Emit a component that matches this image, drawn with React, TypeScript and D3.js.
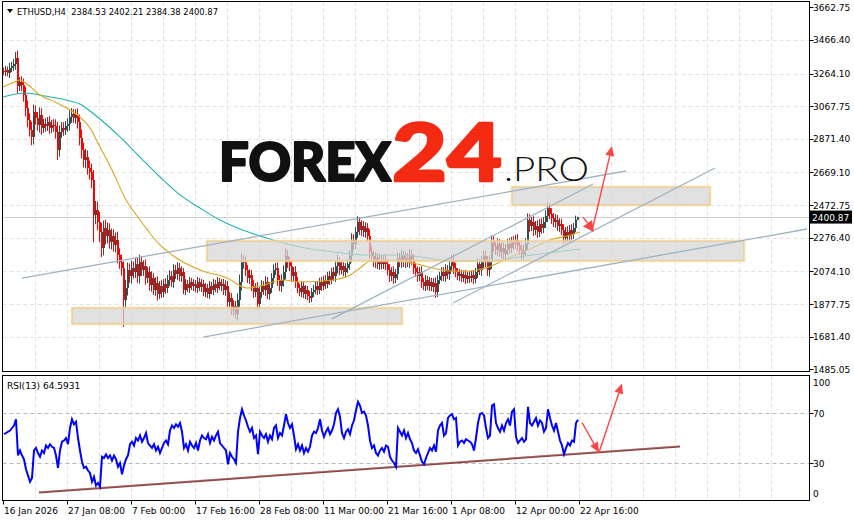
import React from "react";
import * as d3 from "d3";

// ---------- DATA ----------
const symbolHeader = "ETHUSD,H4  2384.53 2402.21 2384.38 2400.87";
const rsiHeader = "RSI(13) 64.5931";
const lastPrice = 2400.87;
const firstOpen = 3280;

// closes (8-hour steps, two H4 bars per candle)
const closes: number[] = [
  3274, 3286, 3268, 3298, 3310, 3322, 3358, 3189, 3213, 3195,
  3135, 3057, 2985, 2925, 2883, 3033, 2997, 2955, 3015, 2937,
  2961, 2949, 2973, 2937, 2955, 2949, 2913, 2804, 2913, 2937,
  2925, 2949, 2961, 3003, 3021, 2997, 3015, 2973, 2877, 2804,
  2744, 2762, 2696, 2672, 2624, 2413, 2443, 2371, 2311, 2215,
  2335, 2287, 2323, 2251, 2287, 2233, 2263, 2173, 2130, 2094,
  1902, 1974, 2082, 2046, 2094, 2070, 2118, 2046, 2130, 2082,
  2106, 2034, 2070, 1992, 2034, 1962, 2004, 1938, 1986, 1950,
  1998, 1974, 2022, 2046, 2010, 2082, 2058, 2094, 2046, 2070,
  1962, 1998, 1974, 2010, 1986, 1998, 1974, 2010, 1980, 1998,
  1950, 1974, 1938, 1986, 1962, 1998, 1974, 2010, 1986, 1998,
  1962, 1986, 1890, 1914, 1842, 1866, 1818, 1902, 2010, 2130,
  2130, 2082, 2034, 2052, 1986, 1950, 1974, 1878, 1950, 1986,
  1962, 2010, 1938, 1974, 2034, 2082, 2094, 2022, 1986, 2022,
  2070, 2167, 2130, 2106, 2046, 2070, 2010, 1974, 1950, 1986,
  1938, 1962, 1926, 1914, 1950, 1962, 1986, 1962, 2010, 1986,
  2022, 1998, 2046, 2022, 2070, 2046, 2106, 2130, 2082, 2106,
  2070, 2094, 2118, 2167, 2263, 2239, 2311, 2371, 2323, 2347,
  2311, 2335, 2287, 2191, 2167, 2130, 2155, 2118, 2143, 2118,
  2143, 2118, 2082, 2046, 2070, 2034, 2058, 2155, 2130, 2167,
  2130, 2155, 2130, 2173, 2143, 2094, 2070, 2046, 2070, 2010,
  1986, 2022, 1986, 2010, 1980, 2004, 1950, 2022, 2046, 2070,
  2046, 2082, 2058, 2106, 2143, 2094, 2070, 2046, 2058, 2034,
  2052, 2028, 2046, 2034, 2052, 2028, 2070, 2118, 2082, 2130,
  2167, 2130, 2082, 2130, 2251, 2227, 2203, 2239, 2191, 2215,
  2179, 2203, 2239, 2215, 2251, 2239, 2263, 2227, 2203, 2179,
  2203, 2239, 2383, 2347, 2371, 2323, 2347, 2311, 2359, 2335,
  2371, 2407, 2455, 2419, 2395, 2371, 2383, 2347, 2359, 2323,
  2275, 2311, 2287, 2323, 2299, 2335, 2384.53, 2400.87,
];

// wick length beyond the body (price units), per candle
const wickLen: number[] = [
  20, 25, 20, 30, 25, 30, 35, 45, 30, 35,
  40, 50, 45, 40, 50, 45, 40, 35, 45, 40,
  30, 35, 30, 35, 30, 35, 40, 60, 40, 35,
  35, 30, 35, 40, 35, 30, 35, 40, 45, 50,
  45, 50, 40, 45, 50, 60, 55, 50, 60, 55,
  45, 50, 45, 40, 45, 40, 45, 50, 40, 45,
  40, 50, 45, 40, 45, 40, 35, 40, 45, 35,
  35, 40, 30, 35, 40, 30, 35, 40, 30, 35,
  30, 35, 30, 35, 30, 35, 30, 35, 30, 35,
  25, 30, 25, 30, 25, 30, 25, 30, 25, 30,
  25, 30, 25, 30, 25, 30, 25, 30, 25, 30,
  30, 35, 30, 35, 30, 35, 30, 40, 45, 50,
  40, 35, 30, 35, 30, 35, 30, 35, 30, 35,
  30, 35, 30, 35, 30, 35, 30, 35, 30, 35,
  40, 45, 35, 30, 35, 30, 35, 30, 25, 30,
  25, 30, 25, 30, 25, 30, 25, 30, 25, 30,
  25, 30, 25, 30, 25, 30, 35, 45, 30, 25,
  25, 30, 30, 35, 40, 35, 30, 35, 30, 35,
  30, 35, 30, 40, 35, 30, 35, 30, 35, 30,
  30, 35, 30, 35, 30, 35, 30, 35, 30, 35,
  30, 35, 30, 35, 30, 35, 30, 35, 30, 35,
  25, 30, 25, 30, 25, 30, 35, 30, 25, 30,
  30, 35, 30, 35, 30, 35, 30, 25, 30, 25,
  25, 30, 25, 30, 25, 30, 25, 35, 30, 35,
  35, 30, 35, 40, 40, 35, 30, 35, 30, 35,
  30, 35, 30, 35, 30, 35, 30, 35, 30, 35,
  30, 35, 40, 35, 30, 35, 30, 35, 30, 35,
  30, 35, 35, 30, 35, 30, 35, 30, 35, 30,
  35, 30, 35, 30, 35, 30, 25, 2,
];

// notable wick extremes: [candle index, price]
const wicks: [number, number][] = [
  [60, 1740],
  [116, 1795],
  [45, 2250],
  [272, 2466],
  [177, 2383],
];

const rsiValues: number[] = [
  53, 54, 55, 56, 58, 60, 65, 36, 40, 36,
  33, 25, 20, 15, 18, 40, 42, 38, 35, 40,
  38, 44, 42, 45, 43, 42, 36, 26, 40, 47,
  48, 50, 45, 58, 65, 61, 63, 50, 40, 31,
  26, 27, 24, 22, 15, 19, 12, 14, 11, 35,
  34, 37, 34, 36, 32, 36, 33, 27, 30, 21,
  28, 33, 36, 45, 47, 44, 50, 48, 52, 47,
  50, 54, 46, 44, 42, 45, 40, 43, 38, 42,
  46, 48, 45, 56, 60, 58, 61, 59, 62, 55,
  42, 45, 40, 47, 44, 42, 46, 40, 48, 52,
  50, 49, 53, 46, 51, 48, 52, 55, 46, 44,
  42, 40, 29, 38, 35, 33, 30, 55, 66, 73,
  68, 64, 59, 55, 58, 50, 52, 37, 55, 52,
  50, 53, 47, 52, 49, 58, 60, 50, 54, 52,
  60, 69, 62, 58, 61, 52, 41, 45, 40, 44,
  38, 42, 39, 43, 52, 55, 54, 58, 65, 56,
  51, 55, 58, 53, 56, 61, 70, 73, 67, 54,
  50, 55, 57, 53, 60, 64, 72, 79, 76, 70,
  71, 68, 60, 48, 42, 44, 38, 36, 40, 42,
  39, 44, 43, 35, 32, 30, 27, 58, 55, 52,
  56, 50, 54, 49, 46, 40, 38, 41, 36, 31,
  29, 34, 38, 42, 40, 44, 39, 56, 60, 62,
  52, 54, 66, 68, 69, 65, 66, 44, 47, 48,
  46, 49, 48, 47, 45, 40, 50, 62, 69, 70,
  68, 58, 50, 52, 76, 77, 62, 58, 55, 60,
  56, 62, 65, 60, 71, 73, 51, 46, 48, 50,
  47, 49, 75, 62, 60, 63, 66, 60, 64, 62,
  55, 58, 73, 66, 60, 56, 62, 55, 48, 44,
  37, 42, 46, 44, 48, 47, 62, 64.59,
];

// moving averages: [candle index, price]
const fastMA: [number, number][] = [
  [0, 3183], [4.5, 3207], [8.5, 3225], [12, 3201], [18.5, 3135], [26, 3093],
  [33.5, 3045], [38.5, 3003], [43.5, 2937], [48.5, 2822], [54.5, 2684],
  [61, 2516], [68.5, 2383], [78.5, 2233], [86, 2161], [98.5, 2082],
  [112, 2034], [122, 1974], [128.5, 1986], [140, 2022], [148.5, 2010],
  [165, 2022], [173.5, 2052], [178.5, 2094], [183.5, 2137], [190, 2143],
  [198.5, 2137], [207, 2118], [215, 2094], [223.5, 2076], [233.5, 2076],
  [241, 2094], [248.5, 2130], [256, 2173], [263.5, 2209], [273.5, 2263],
  [282, 2287], [288.5, 2311],
];
const slowMA: [number, number][] = [
  [0, 3123], [11, 3147], [21, 3129], [33.5, 3099], [38.5, 3081], [43.5, 3039],
  [48.5, 2991], [58.5, 2883], [68.5, 2762], [78.5, 2642], [88.5, 2534],
  [98.5, 2455], [108.5, 2383], [118.5, 2329], [128.5, 2287], [138.5, 2251],
  [148.5, 2221], [165, 2191], [182, 2173], [198.5, 2173], [215, 2149],
  [223.5, 2137], [243.5, 2137], [261, 2167], [276, 2191], [288.5, 2209],
];

const priceTicks = [3662.75, 3466.4, 3264.1, 3067.75, 2871.4, 2669.1, 2472.75, 2276.4, 2074.1, 1877.75, 1681.4, 1485.05];
const priceTickLabels = ["3662.75", "3466.40", "3264.10", "3067.75", "2871.40", "2669.10", "2472.75", "2276.40", "2074.10", "1877.75", "1681.40", "1485.05"];
const rsiLevels = [100, 70, 30, 0];
const timeLabels = ["16 Jan 2026", "27 Jan 08:00", "7 Feb 00:00", "17 Feb 16:00", "28 Feb 08:00", "11 Mar 00:00", "21 Mar 16:00", "1 Apr 08:00", "12 Apr 00:00", "22 Apr 16:00"];
const timeLabelBars = [0, 32, 64, 96, 128, 160, 192, 224, 256, 288];

// zones: [bar0, bar1, priceLow, priceHigh]
const zones: [number, number, number, number][] = [
  [34.5, 199.5, 1758, 1854],
  [102, 370.5, 2137, 2257],
  [254.5, 353.5, 2473, 2582],
];
// trend lines: [bar0, price0, bar1, price1]
const trendLines: [number, number, number, number][] = [
  [9.5, 2034, 311.5, 2678],
  [100, 1679, 402, 2329],
  [164.5, 1788, 295, 2600],
  [225, 1884, 356, 2696],
];
const priceArrows: [number, number, number, number][] = [
  [290, 2401, 295.5, 2311],
  [294.5, 2317, 304.5, 2828],
];
const rsiArrows: [number, number, number, number][] = [
  [289.5, 62.4, 298, 38.4],
  [298, 38.4, 309.5, 93.6],
];
const rsiTrend: [number, number, number, number] = [18, 6.4, 338.5, 43.2];

// ---------- CHART ----------
const FONT = "'DejaVu Sans', Verdana, sans-serif";
const BULL = "#2f4f4f";
const BEAR = "#ff0000";
const ARROW = "#ff4646";

function Arrow({ x1, y1, x2, y2, len = 11, half = 4.5 }: any) {
  const dx = x2 - x1, dy = y2 - y1;
  const L = Math.hypot(dx, dy);
  const ux = dx / L, uy = dy / L;
  const bx = x2 - ux * len, by = y2 - uy * len;
  const px = -uy, py = ux;
  return (
    <g>
      <line x1={x1} y1={y1} x2={bx} y2={by} stroke={ARROW} strokeWidth={1.4} />
      <polygon
        points={`${x2},${y2} ${bx + px * half},${by + py * half} ${bx - px * half},${by - py * half}`}
        fill={ARROW}
      />
    </g>
  );
}

export default function App() {
  const left = 2.5, right = 809.5, top = 1.5, mainBottom = 371.5, rsiTop = 375.5, rsiBottom = 500.5;
  const x = d3.scaleLinear().domain([0, 288]).range([3, 579]);
  const y = d3.scaleLinear().domain([1485.05, 3662.75]).range([369.3, 7.3]);
  const yr = d3.scaleLinear().domain([0, 100]).range([rsiBottom, rsiTop]);

  const maLine = d3
    .line<[number, number]>()
    .x((d) => x(d[0]))
    .y((d) => y(d[1]))
    .curve(d3.curveMonotoneX);
  const rsiLine = d3
    .line<number>()
    .x((_, i) => x(i) + 1)
    .y((d) => yr(d));

  const gridBars = d3.range(16, 400, 16).filter((b) => x(b) < right - 3);

  const candles = closes.map((c, i) => {
    const o = i === 0 ? firstOpen : closes[i - 1];
    const hi = Math.max(o, c), lo = Math.min(o, c);
    const y0 = y(hi), y1 = y(lo);
    const col = c >= o ? BULL : BEAR;
    const w = wickLen[i];
    return (
      <g key={i}>
        <rect x={x(i)} y={y(hi + w)} width={1} height={y(lo - w) - y(hi + w)} fill={col} />
        <rect x={x(i)} y={y0} width={2} height={Math.max(1, y1 - y0)} fill={col} />
      </g>
    );
  });

  const wickMarks = wicks.map(([i, p], k) => {
    const o = i === 0 ? firstOpen : closes[i - 1];
    const c = closes[i];
    const edge = p < Math.min(o, c) ? Math.min(o, c) : Math.max(o, c);
    return (
      <line key={k} x1={x(i) + 0.5} x2={x(i) + 0.5} y1={y(edge)} y2={y(p)} stroke={c >= o ? BULL : BEAR} strokeWidth={1} />
    );
  });

  return (
    <svg
      width={854}
      height={521}
      style={{ position: "absolute", left: 0, top: 0, display: "block", background: "#fff" }}
    >
      <rect x={0} y={0} width={854} height={521} fill="#fff" />
      <defs>
        <clipPath id="mainClip">
          <rect x={left} y={top} width={right - left} height={mainBottom - top} />
        </clipPath>
        <clipPath id="rsiClip">
          <rect x={left} y={rsiTop} width={right - left} height={rsiBottom - rsiTop} />
        </clipPath>
      </defs>

      {/* grid main */}
      <g stroke="#e3e3e3" strokeWidth={1} strokeDasharray="4,3">
        {priceTicks.slice(1, -1).map((p, i) => (
          <line key={i} x1={left} x2={right} y1={Math.round(y(p)) + 0.5} y2={Math.round(y(p)) + 0.5} />
        ))}
        {gridBars.map((b, i) => (
          <line key={"v" + i} x1={Math.round(x(b)) + 0.5} x2={Math.round(x(b)) + 0.5} y1={top} y2={mainBottom} />
        ))}
      </g>
      {/* grid rsi */}
      <g stroke="#e3e3e3" strokeWidth={1} strokeDasharray="4,3">
        {gridBars.map((b, i) => (
          <line key={"r" + i} x1={Math.round(x(b)) + 0.5} x2={Math.round(x(b)) + 0.5} y1={rsiTop} y2={rsiBottom} />
        ))}
      </g>
      <g stroke="#b8b8b8" strokeWidth={1} strokeDasharray="4,3">
        {[70, 30].map((v) => (
          <line key={v} x1={left} x2={right} y1={Math.round(yr(v)) + 0.5} y2={Math.round(yr(v)) + 0.5} />
        ))}
      </g>

      <g clipPath="url(#mainClip)">
        {/* last price line */}
        <line x1={left} x2={right} y1={Math.round(y(lastPrice)) + 0.5} y2={Math.round(y(lastPrice)) + 0.5} stroke="#d0d0d0" strokeWidth={1} />
        {wickMarks}
        {candles}
        <path d={maLine(slowMA) || ""} fill="none" stroke="#20b2aa" strokeWidth={1.1} />
        <path d={maLine(fastMA) || ""} fill="none" stroke="#daa520" strokeWidth={1.1} />

        {/* zones */}
        {zones.map(([b0, b1, p0, p1], i) => (
          <g key={i}>
            <rect x={x(b0)} y={y(p1)} width={x(b1) - x(b0)} height={y(p0) - y(p1)} fill="none" stroke="#f8e4bd" strokeWidth={3} opacity={0.6} />
            <rect x={x(b0)} y={y(p1)} width={x(b1) - x(b0)} height={y(p0) - y(p1)} fill="#d6d6d6" fillOpacity={0.72} stroke="#f2c778" strokeWidth={1} />
          </g>
        ))}

        {/* trend lines */}
        {trendLines.map(([b0, p0, b1, p1], i) => (
          <line key={i} x1={x(b0)} y1={y(p0)} x2={x(b1)} y2={y(p1)} stroke="#9fb3c2" strokeWidth={1.3} />
        ))}

        {priceArrows.map(([b0, p0, b1, p1], i) => (
          <Arrow key={i} x1={x(b0)} y1={y(p0)} x2={x(b1)} y2={y(p1)} len={i === 0 ? 11 : 10} half={i === 0 ? 5.5 : 4.5} />
        ))}
      </g>

      {/* logo */}
      <g>
        <text x={219} y={181} fontFamily="Lato, Inter, Roboto, sans-serif" fontWeight={900} fontSize={54} fill="#111" stroke="#111" strokeWidth={2.2} strokeLinejoin="round" textLength={172} lengthAdjust="spacingAndGlyphs">FOREX</text>
        <text x={392} y={181} fontFamily="Lato, Inter, Roboto, sans-serif" fontWeight={900} fontSize={80} fill="#f52a12" stroke="#f52a12" strokeWidth={2.5} strokeLinejoin="round" textLength={110} lengthAdjust="spacingAndGlyphs">24</text>
        <text x={504} y={181} fontFamily="Lato, 'Open Sans', sans-serif" fontWeight={300} fontSize={33} fill="#111" textLength={85} lengthAdjust="spacingAndGlyphs">.PRO</text>
      </g>

      {/* rsi */}
      <g clipPath="url(#rsiClip)">
        <line x1={x(rsiTrend[0])} y1={yr(rsiTrend[1])} x2={x(rsiTrend[2])} y2={yr(rsiTrend[3])} stroke="#8a4545" strokeWidth={2} />
        <line x1={x(rsiTrend[0])} y1={yr(rsiTrend[1]) - 0.6} x2={x(rsiTrend[2])} y2={yr(rsiTrend[3]) - 0.6} stroke="#c89090" strokeWidth={0.7} opacity={0.6} />
        <path d={rsiLine(rsiValues) || ""} fill="none" stroke="#0000ff" strokeWidth={2} strokeLinejoin="miter" />
        {rsiArrows.map(([b0, v0, b1, v1], i) => (
          <Arrow key={i} x1={x(b0)} y1={yr(v0)} x2={x(b1)} y2={yr(v1)} len={10} half={4.5} />
        ))}
      </g>

      {/* frames */}
      <rect x={left} y={top} width={right - left} height={mainBottom - top} fill="none" stroke="#000" strokeWidth={1} />
      <rect x={left} y={rsiTop} width={right - left} height={rsiBottom - rsiTop} fill="none" stroke="#000" strokeWidth={1} />

      {/* headers */}
      <polygon points="7,9 13,9 10,13" fill="#000" />
      <text x={17} y={15} fontFamily={FONT} fontSize={9} fill="#000" style={{ whiteSpace: "pre" }} textLength={201} lengthAdjust="spacingAndGlyphs">{symbolHeader}</text>
      <text x={7} y={389} fontFamily={FONT} fontSize={9} fill="#000">{rsiHeader}</text>

      {/* price axis */}
      <g fontFamily={FONT} fontSize={9} fill="#000">
        {priceTicks.map((p, i) => (
          <g key={i}>
            <line x1={right} x2={right + 4} y1={Math.round(y(p)) + 0.5} y2={Math.round(y(p)) + 0.5} stroke="#000" />
            <text x={813} y={y(p) + 3.5}>{priceTickLabels[i]}</text>
          </g>
        ))}
        <rect x={810} y={y(lastPrice) - 6.5} width={42} height={13} fill="#000" />
        <text x={812} y={y(lastPrice) + 3.5} fill="#fff">{lastPrice.toFixed(2)}</text>
      </g>

      {/* rsi axis */}
      <g fontFamily={FONT} fontSize={9} fill="#000">
        {rsiLevels.map((v) => {
          const yy = v === 100 ? yr(v) + 6.5 : v === 0 ? yr(v) - 7.5 : yr(v);
          return (
            <g key={v}>
              {v !== 100 && v !== 0 ? (
                <line x1={right} x2={right + 4} y1={Math.round(yr(v)) + 0.5} y2={Math.round(yr(v)) + 0.5} stroke="#000" />
              ) : null}
              <text x={813} y={yy + 3.5}>{v}</text>
            </g>
          );
        })}
      </g>

      {/* time axis */}
      <g fontFamily={FONT} fontSize={9} fill="#000">
        {timeLabelBars.map((b, i) => (
          <g key={i}>
            <line x1={Math.round(x(b)) + 0.5} x2={Math.round(x(b)) + 0.5} y1={rsiBottom} y2={rsiBottom + 4} stroke="#000" />
            <text x={x(b) + 1} y={514}>{timeLabels[i]}</text>
          </g>
        ))}
      </g>
    </svg>
  );
}
